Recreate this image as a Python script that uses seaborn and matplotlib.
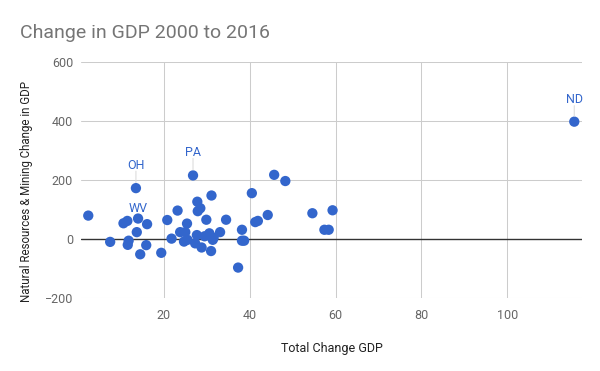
"""Scatter of state GDP change vs natural resources & mining GDP change."""

import matplotlib.pyplot as plt
import pandas as pd
import seaborn as sns

# Values.
total_change = [
    2.4, 13.5, 7.5, 10.6, 11.5, 14.0, 16.1, 13.7, 11.8, 11.6,
    15.9, 14.5, 19.4, 20.8, 21.8, 26.8, 23.2, 25.4, 27.8, 28.5,
    27.9, 31.1, 29.9, 34.5, 23.8, 25.0, 24.7, 25.5, 27.3, 27.7,
    28.8, 29.5, 30.6, 31.4, 31.6, 31.0, 33.1, 38.2, 38.2, 38.7,
    37.3, 40.5, 41.3, 41.9, 45.7, 48.3, 44.2, 54.6, 59.3, 57.4,
    58.4, 115.6,
]
mining_change = [
    80, 173, -9, 54, 62, 70, 51, 24, -5, -19,
    -20, -51, -46, 65, 2, 216, 97, 53, 127, 105,
    95, 148, 66, 66, 24, 24, -8, -2, -14, 14,
    -28, 10, 20, -2, 5, -40, 24, 32, -5, -5,
    -96, 156, 58, 62, 218, 197, 82, 88, 98, 32,
    32, 398,
]
# Labelled states: (name, index into the arrays above, label offset in px)
labels = [("OH", 1, 23), ("WV", 5, 10), ("PA", 15, 23), ("ND", 51, 22)]

y_ticks = [-200, 0, 200, 400, 600]
x_ticks = [20, 40, 60, 80, 100]

df = pd.DataFrame({"total": total_change, "mining": mining_change})

sns.set_theme(style="white")
plt.rcParams["font.family"] = ["Roboto", "DejaVu Sans"]

fig, ax = plt.subplots(figsize=(6, 3.71), dpi=100)
fig.subplots_adjust(left=81.4 / 600, right=582 / 600,
                    top=1 - 62 / 371, bottom=1 - 298.3 / 371)

blue = "#3366cc"
grid = "#cccccc"

for v in y_ticks:
    ax.axhline(v, color="#333333" if v == 0 else grid,
               linewidth=1.0 if v == 0 else 0.75, zorder=1 if v == 0 else 0)
for v in x_ticks:
    ax.axvline(v, color=grid, linewidth=0.75, zorder=0)

sns.scatterplot(data=df, x="total", y="mining", color=blue, s=55,
                edgecolor="none", ax=ax, zorder=3)

for name, i, off in labels:
    px, py = total_change[i], mining_change[i]
    ax.annotate(name, (px, py), xytext=(0, off * 0.72), textcoords="offset points",
                ha="center", va="center", fontsize=9, color=blue)
    if off > 15:
        ax.annotate("", (px, py), xytext=(0, (off - 6) * 0.72),
                    textcoords="offset points",
                    arrowprops=dict(arrowstyle="-", color="#dddddd", lw=0.8,
                                    shrinkA=0, shrinkB=4))

ax.set_xlim(0.8, 117.4)
ax.set_ylim(-200, 600)
ax.set_xticks(x_ticks)
ax.set_yticks(y_ticks)
for s in ax.spines.values():
    s.set_visible(False)
ax.tick_params(axis="both", length=0, labelsize=9, labelcolor="#666666")
ax.tick_params(axis="y", pad=6)
ax.tick_params(axis="x", pad=8)

ax.set_xlabel("Total Change GDP", fontsize=9, color="#222222", labelpad=14)
ax.set_ylabel("Natural Resources & Mining Change in GDP", fontsize=8.3,
              color="#222222")
ax.yaxis.set_label_coords(-0.096, 0.45)

fig.text(20 / 600, 1 - 33 / 371, "Change in GDP 2000 to 2016", fontsize=14,
         color="#757575", ha="left", va="center")

fig.savefig("out.png", dpi=100, facecolor="white")
plt.close(fig)
